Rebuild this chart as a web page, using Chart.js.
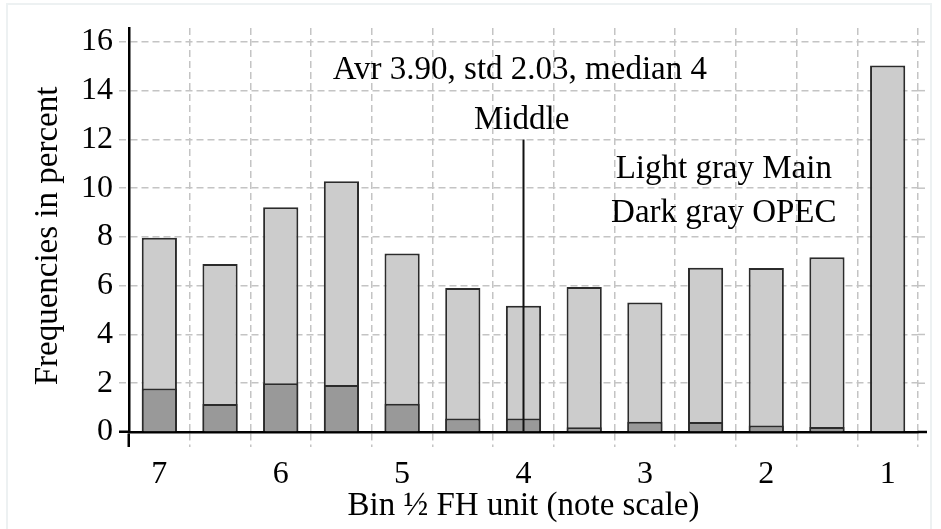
<!DOCTYPE html>
<html>
<head>
<meta charset="utf-8">
<script src="https://cdn.jsdelivr.net/npm/chart.js@4"></script>
<style>
  html, body { margin: 0; padding: 0; background: #fff; }
  #wrap { position: relative; width: 941px; height: 529px; overflow: hidden; }
  #frame { position: absolute; left: 6px; top: 3px; width: 926px; height: 560px;
           border: 2px solid #edf1f2; box-sizing: border-box; }
  canvas { position: absolute; left: 0; top: 0; }
</style>
</head>
<body>
<div id="wrap">
  <div id="frame"></div>
  <canvas id="chart" width="941" height="529"></canvas>
</div>
<script>
// bins on the note scale, labelled every other bar
const bins = ['7', '', '6', '', '5', '', '4', '', '3', '', '2', '', '1'];
// light gray: Main (total), dark gray: OPEC share
const mainValues = [7.97, 6.89, 9.22, 10.28, 7.32, 5.91, 5.18, 5.95, 5.31, 6.74, 6.73, 7.17, 15.03];
const opecValues = [1.78, 1.15, 2.0, 1.93, 1.16, 0.55, 0.55, 0.19, 0.42, 0.41, 0.27, 0.2, 0];
const yTickValues = [0, 2, 4, 6, 8, 10, 12, 14, 16];

const serif = 'Liberation Serif';
const gridGray = '#c4c4c4';

// texts and the middle marker, placed in data coordinates
const notesPlugin = {
  id: 'notes',
  afterDatasetsDraw(chart) {
    const { ctx, chartArea, scales: { x, y } } = chart;
    ctx.save();
    // middle marker at bin 4
    ctx.strokeStyle = '#111';
    ctx.lineWidth = 2;
    ctx.beginPath();
    ctx.moveTo(x.getPixelForValue(6), y.getPixelForValue(0));
    ctx.lineTo(x.getPixelForValue(6), y.getPixelForValue(12));
    ctx.stroke();

    ctx.fillStyle = '#000';
    ctx.font = '33px "' + serif + '"';
    ctx.textAlign = 'center';
    ctx.textBaseline = 'alphabetic';
    const at = (t, i, v) => {
      const xp = x.getPixelForValue(Math.floor(i)) + (i % 1) * (x.getPixelForValue(1) - x.getPixelForValue(0));
      ctx.fillText(t, xp, y.getPixelForValue(v));
    };
    at('Avr 3.90, std 2.03, median 4', 5.94, 14.48);
    at('Middle', 5.97, 12.41);
    at('Light gray Main', 9.3, 10.42);
    at('Dark gray OPEC', 9.3, 8.62);

    // y axis title, a bit below the plot centre like the original
    ctx.translate(48, (chartArea.top + chartArea.bottom) / 2 + 6);
    ctx.rotate(-Math.PI / 2);
    ctx.textBaseline = 'middle';
    ctx.fillText('Frequencies in percent', 0, 0);
    ctx.restore();
  },
  beforeDatasetsDraw(chart) {
    // grid lines run a little past the last bin
    const { ctx, chartArea, scales: { y } } = chart;
    ctx.save();
    ctx.lineWidth = 1.5;
    ctx.strokeStyle = gridGray;
    ctx.setLineDash([7, 4]);
    yTickValues.forEach(v => {
      if (v === 0) return;
      const yp = y.getPixelForValue(v);
      ctx.beginPath();
      ctx.moveTo(chartArea.right, yp);
      ctx.lineTo(chartArea.right + 9, yp);
      ctx.stroke();
    });
    ctx.setLineDash([]);
    ctx.strokeStyle = '#000';
    ctx.lineWidth = 2.5;
    ctx.beginPath();
    ctx.moveTo(chartArea.right, y.getPixelForValue(0));
    ctx.lineTo(chartArea.right + 9, y.getPixelForValue(0));
    ctx.stroke();
    ctx.restore();
  }
};

new Chart(document.getElementById('chart'), {
  type: 'bar',
  data: {
    labels: bins,
    datasets: [
      {
        label: 'OPEC',
        data: opecValues,
        backgroundColor: '#999999',
        borderColor: '#2b2b2b',
        borderWidth: 2,
        categoryPercentage: 1,
        barPercentage: 0.58
      },
      {
        label: 'Main',
        data: mainValues,
        backgroundColor: '#cccccc',
        borderColor: '#2b2b2b',
        borderWidth: 2,
        categoryPercentage: 1,
        barPercentage: 0.58
      }
    ]
  },
  options: {
    responsive: false,
    animation: false,
    devicePixelRatio: 1,
    layout: { padding: { left: 0, right: 23, top: 28, bottom: 0 } },
    plugins: { legend: { display: false }, tooltip: { enabled: false } },
    scales: {
      x: {
        stacked: true,
        grid: {
          color: gridGray,
          lineWidth: 1.5,
          tickLength: 15,
          tickColor: c => c.index === 0 ? '#000' : gridGray,
          tickWidth: c => c.index === 0 ? 2.5 : 1.5,
          tickBorderDash: c => c.index === 0 ? [] : [7, 4]
        },
        border: { display: true, color: '#000', width: 2.5, dash: [7, 4] },
        ticks: {
          autoSkip: false,
          maxRotation: 0,
          padding: 8,
          color: '#000',
          font: { family: serif, size: 32 }
        },
        title: {
          display: true,
          text: 'Bin \u00BD FH unit (note scale)',
          color: '#000',
          font: { family: serif, size: 33 },
          padding: { top: 0, bottom: 3 }
        },
        afterFit: s => { s.height = 97; }
      },
      y: {
        stacked: false,
        min: 0,
        max: 16.57,
        grid: {
          color: gridGray,
          lineWidth: 1.5,
          tickLength: 10,
          tickColor: c => c.tick && c.tick.value === 0 ? '#000' : gridGray,
          tickWidth: c => c.tick && c.tick.value === 0 ? 2.5 : 1.5,
          tickBorderDash: c => c.tick && c.tick.value === 0 ? [] : [7, 4]
        },
        border: { display: true, color: '#000', width: 2.5, dash: [7, 4] },
        ticks: {
          stepSize: 2,
          includeBounds: false,
          padding: 6,
          color: '#000',
          font: { family: serif, size: 32 }
        },
        afterBuildTicks: s => { s.ticks = yTickValues.map(v => ({ value: v })); },
        afterFit: s => { s.width = 129; }
      }
    }
  },
  plugins: [notesPlugin]
});
</script>
</body>
</html>
